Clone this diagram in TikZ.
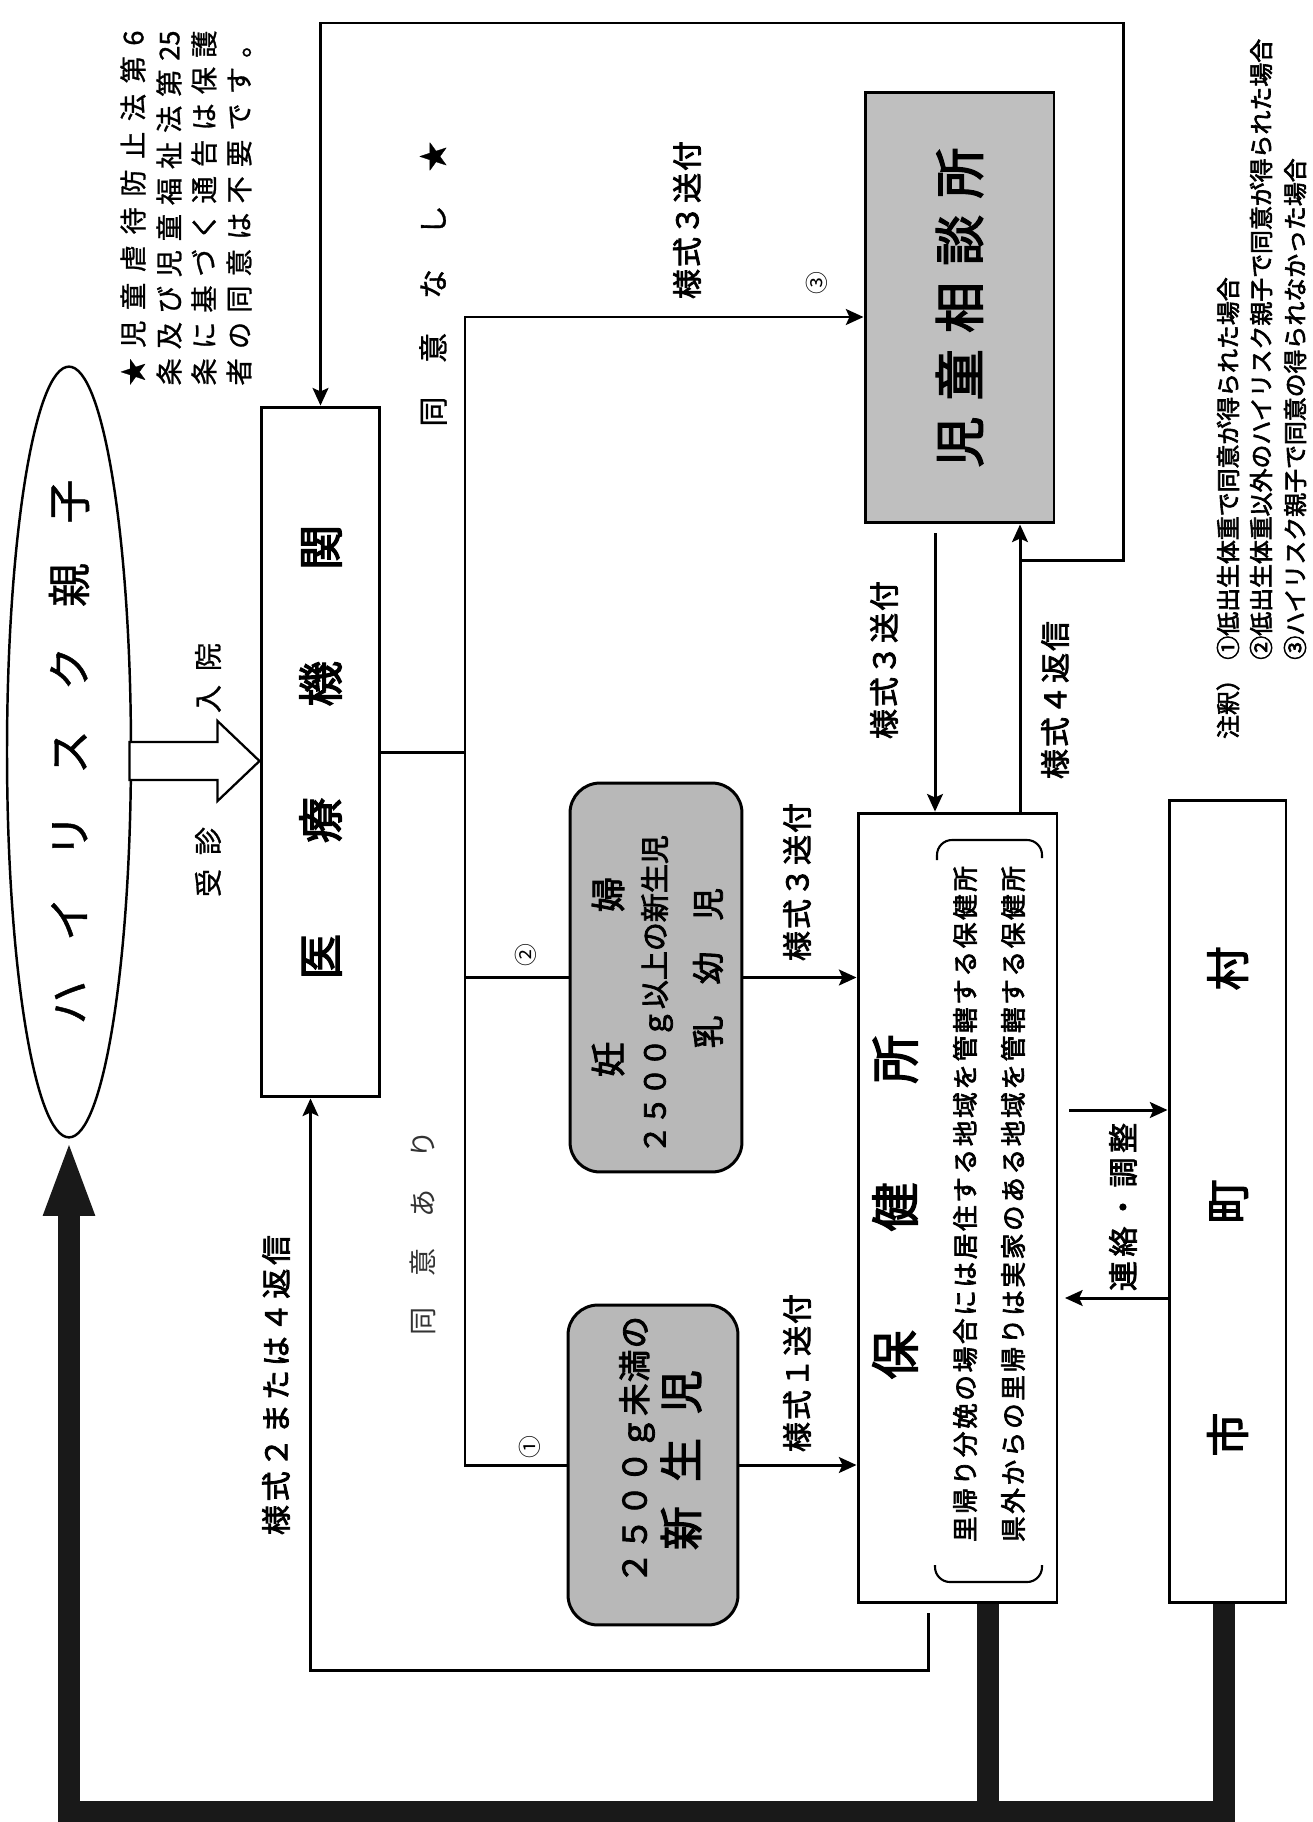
\documentclass[tikz,border=0pt]{standalone}
\usepackage{fontspec}
\setmainfont{Noto Sans CJK JP}
\newfontfamily\jpb[FakeBold=2.6]{Noto Sans CJK JP}
\newfontfamily\jpm[FakeBold=1]{Noto Sans CJK JP}
\usepackage{graphicx}
\usetikzlibrary{arrows.meta, shapes.geometric, calc}
\newdimen\pxu \pxu=0.02cm
\newcommand\fsz[1]{\fontsize{#1pt}{#1pt}\selectfont}
\ExplSyntaxOn
\NewDocumentCommand \spr { m m } { \makebox[#1\pxu][s]{ \tl_map_inline:nn {#2} { ##1 \hfil } \unskip } }
\ExplSyntaxOff
\tikzset{
  % plain box
  rbox/.style={draw, line width=1.7pt, fill=white, inner sep=0pt},
  % grey rounded box
  gbox/.style={rbox, fill=black!28, rounded corners=0.6cm},
  % connectors
  conn/.style={line width=1.7pt},
  arr/.style={conn, -{Stealth[length=10pt,width=9pt,inset=2pt]}},
  bar/.style={line width=12.5pt, black!90},
  % rotated text
  vtext/.style={rotate=90, inner sep=0pt},
  elabel/.style={vtext, font=\jpb\fsz{17}},
}
\begin{document}
\begin{tikzpicture}[x=0.02cm, y=-0.02cm]
  \useasboundingbox (0,0) rectangle (1312,1822);

  %% ---- notes ----
  \node[vtext, font=\jpm\fsz{15.5}] (nt1) at (133,208) {\spr{355}{★児童虐待防止法第6}};
  \node[vtext, font=\jpm\fsz{15.5}] (nt2) at (169,208) {\spr{355}{条及び児童福祉法第{25}}};
  \node[vtext, font=\jpm\fsz{15.5}] (nt3) at (204,208) {\spr{355}{条に基づく通告は保護}};
  \node[vtext, font=\jpm\fsz{15.5}] (nt4) at (239,208) {\spr{355}{者の同意は不要です。}};

  \node[vtext, font=\jpb\fsz{13.6}] (cm0) at (1228,703) {注釈）};
  \node[vtext, anchor=west, font=\jpb\fsz{13.6}] (cm1) at (1228,660) {①低出生体重で同意が得られた場合};
  \node[vtext, anchor=west, font=\jpb\fsz{13.6}] (cm2) at (1261,660) {②低出生体重以外のハイリスク親子で同意が得られた場合};
  \node[vtext, anchor=west, font=\jpb\fsz{13.6}] (cm3) at (1295,660) {③ハイリスク親子で同意の得られなかった場合};

  %% ---- main boxes ----
  \node[draw, ellipse, line width=1.4pt, fill=white, inner sep=0pt,
        minimum width=2.48cm, minimum height=13.1cm] (oyako) at (69,752)
    {\rotatebox{90}{\jpm\fsz{25}\spr{545}{ハイリスク親子}}};
  \node[rbox, minimum width=2.38cm, minimum height=13.8cm, font=\jpb\fsz{26}] (iryo) at (320.5,752)
    {\rotatebox{90}{\spr{455}{医療機関}}};
  \node[rbox, fill=black!25, minimum width=3.78cm, minimum height=8.62cm, font=\jpb\fsz{29}] (jiso) at (959.5,307.5)
    {\rotatebox{90}{\spr{320}{児童相談所}}};
  \node[rbox, minimum width=3.98cm, minimum height=15.8cm] (hoken) at (957.5,1208) {};
  \node[rbox, minimum width=2.34cm, minimum height=16.06cm, font=\jpb\fsz{25}] (shi) at (1227.5,1201.5)
    {\rotatebox{90}{\spr{510}{市町村}}};
  \node[gbox, minimum width=3.44cm, minimum height=7.78cm] (nin) at (656,977.5) {};
  \node[gbox, minimum width=3.4cm, minimum height=6.4cm] (shin) at (653,1465) {};

  %% texts in boxes
  \node[vtext, font=\jpb\fsz{20}] (nin1) at (608,977) {\spr{200}{妊婦}};
  \node[vtext, font=\jpb\fsz{16.5}] (nin2) at (657,995) {\spr{318}{２５００ｇ以上の新生児}};
  \node[vtext, font=\jpb\fsz{18.5}] (nin3) at (708,968) {\spr{160}{乳幼児}};
  \node[vtext, font=\jpb\fsz{18.5}] (shin1) at (637,1450) {\spr{268}{２５００ｇ未満の}};
  \node[vtext, font=\jpb\fsz{25}] (shin2) at (681,1460) {\spr{180}{新生児}};
  \node[vtext, font=\jpb\fsz{28}] (hoken0) at (895,1207) {\spr{345}{保健所}};
  \node[vtext, font=\jpb\fsz{14.6}] (hoken1) at (965,1204) {\spr{676}{里帰り分娩の場合には居住する地域を管轄する保健所}};
  \node[vtext, font=\jpb\fsz{14.6}] (hoken2) at (1013,1204) {\spr{676}{県外からの里帰りは実家のある地域を管轄する保健所}};
  \draw[line width=1.2pt, rounded corners=0.3cm] (937,860) -- (937,840) -- (1042,840) -- (1042,858);
  \draw[line width=1.2pt, rounded corners=0.3cm] (935,1565) -- (935,1582) -- (1042,1582) -- (1042,1565);

  %% ---- visit arrow ----
  \coordinate (jtip) at ($(iryo.west)+(0,9)$);
  \draw[line width=1.3pt, fill=white] (jtip) -- ++(-42,-40) -- ++(0,21) -- ++(-88,0)
    -- ++(0,38) -- ++(88,0) -- ++(0,21) -- cycle;
  \node[vtext, font=\jpm\fsz{16}] (jushin) at (208,862) {\spr{70}{受診}};
  \node[vtext, font=\jpm\fsz{16}] (nyuin) at (208,678) {\spr{70}{入院}};

  %% ---- medical -> branches ----
  \coordinate (tk3) at (465,317);
  \coordinate (tk1) at (465,1465);
  \draw[conn] (iryo.east) -- (iryo.east -| tk3);
  \draw[conn] (tk3 |- nin.west) -- (nin.west);
  \draw[arr] (shin.west) -- (tk1) -- (tk3) -- (tk3 -| jiso.west);
  \node[vtext, font=\fsz{13}] (c1) at (530,1447) {①};
  \node[vtext, font=\fsz{13}] (c2) at (526,955) {②};
  \node[vtext, font=\fsz{13}] (c3) at (817,283) {③};
  \node[vtext, font=\jpm\fsz{17}] (nashi) at (433,284) {\spr{285}{同意なし★}};
  \node[vtext, font=\fsz{16}, text=black!80] (ari) at (423,1233) {\spr{205}{同意あり}};
  \node[elabel] (f3top) at (687,220) {\spr{158}{様式３送付}};

  %% ---- to health centre ----
  \draw[arr] (nin.east) -- (nin.east -| hoken.west);
  \draw[arr] (shin.east) -- (shin.east -| hoken.west);
  \node[elabel] (f3mid) at (797,882) {\spr{158}{様式３送付}};
  \node[elabel] (f1) at (797,1373) {\spr{158}{様式１送付}};

  %% ---- child guidance centre <-> health centre ----
  \coordinate (s3) at (935,533);
  \draw[arr] (s3) -- (s3 |- hoken.north);
  \node[elabel] (f3jh) at (884,660) {\spr{158}{様式３送付}};
  \coordinate (r4) at (1020,560);
  \coordinate (rtop) at (1123,23);
  \draw[arr] (r4 |- hoken.north) -- (r4 |- jiso.south);
  \draw[arr] (r4) -| (rtop) -| (iryo.north);
  \node[elabel] (f4) at (1055,700) {\spr{158}{様式４返信}};

  %% ---- reply to medical ----
  \coordinate (r2) at (928,1613);
  \coordinate (r2b) at (928,1670);
  \draw[arr] (r2) -- (r2b) -| ([xshift=-0.2cm]iryo.south);
  \node[elabel] (f24) at (276,1385) {\spr{300}{様式２または４返信}};

  %% ---- health centre <-> municipality ----
  \coordinate (rk1) at (1069,1110);
  \coordinate (rk2) at (1065,1298);
  \draw[arr] (rk1) -- (rk1 -| shi.west);
  \draw[arr] (rk2 -| shi.west) -- (rk2);
  \node[elabel] (renraku) at (1123,1207) {\spr{168}{連絡・調整}};

  %% ---- support back to family ----
  \coordinate (hb) at ([xshift=0.61cm]hoken.south);
  \coordinate (barR) at (1224,1812);
  \coordinate (barL) at (69,1812);
  \draw[bar] (hb) -- (hb |- barL);
  \draw[bar, -{Triangle[length=44pt,width=26pt]}] (barR |- shi.south) -- (barR) -- (barL) -- (oyako.south);

\end{tikzpicture}
\end{document}
